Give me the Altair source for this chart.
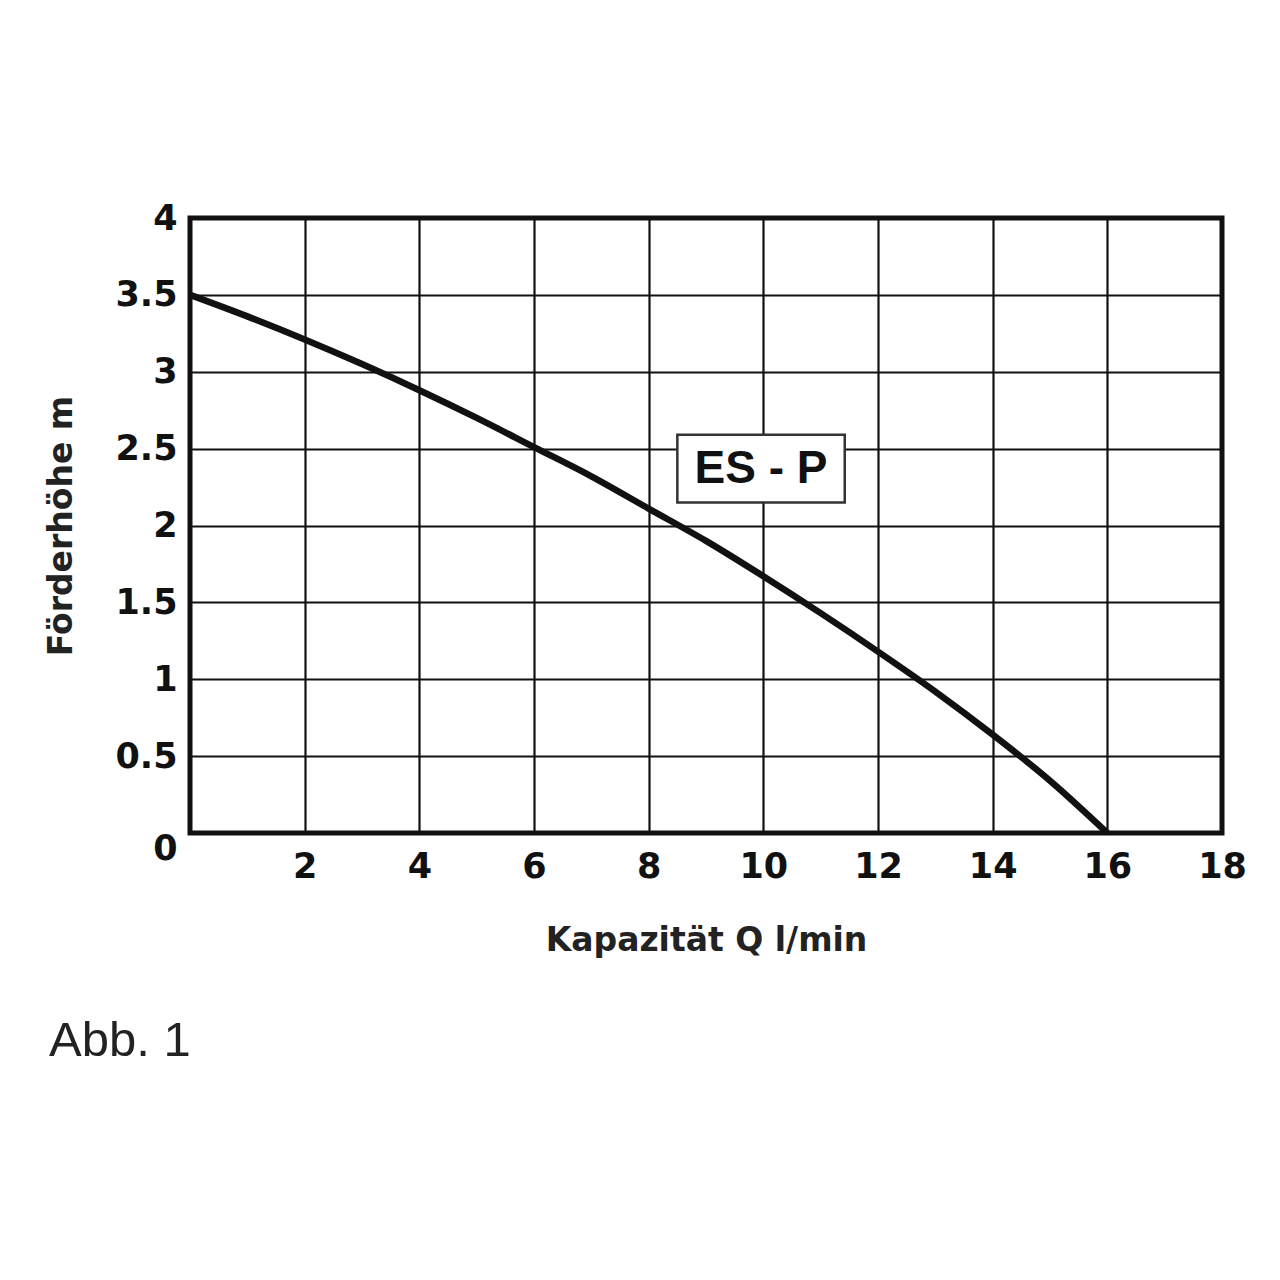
import pandas as pd
import altair as alt

# Kennlinie ES - P
kapazitaet = [0, 1, 2, 3, 4, 5, 6, 7, 8, 9, 10, 11, 12, 13, 14, 15, 16]
foerderhoehe = [3.50, 3.36, 3.21, 3.05, 2.88, 2.70, 2.51, 2.32, 2.11, 1.90,
                1.67, 1.43, 1.18, 0.92, 0.64, 0.34, 0.00]

x_ticks = [0, 2, 4, 6, 8, 10, 12, 14, 16, 18]
y_ticks = [0, 0.5, 1, 1.5, 2, 2.5, 3, 3.5, 4]

label_text = ["ES - P"]
label_x = [8.5]
label_x2 = [11.42]
label_y = [2.59]
label_y2 = [2.15]

df = pd.DataFrame({"q": kapazitaet, "h": foerderhoehe})
lab = pd.DataFrame({"text": label_text, "x": label_x, "x2": label_x2,
                    "y": label_y, "y2": label_y2})
lab["xm"] = (lab["x"] + lab["x2"]) / 2
lab["ym"] = (lab["y"] + lab["y2"]) / 2

font = "DejaVu Sans"

x_scale = alt.Scale(domain=[0, 18], nice=False, zero=False)
y_scale = alt.Scale(domain=[0, 4], nice=False, zero=False)

x_axis = alt.Axis(
    values=x_ticks, title="Kapazität Q l/min", grid=True, gridColor="#111",
    gridWidth=2.2, ticks=False, domain=False, labelFont=font,
    labelFontWeight="bold", labelFontSize=35, labelColor="#111",
    labelPadding=16, labelFlush=False, labelOverlap=False,
    labelExpr="datum.value == 0 ? '' : datum.value",
    titleFont=font, titleFontWeight="bold", titleFontSize=33,
    titleColor="#222", titlePadding=40,
)
y_axis = alt.Axis(
    values=y_ticks, title="Förderhöhe m", grid=True, gridColor="#111",
    gridWidth=2.2, ticks=False, domain=False, labelFont=font,
    labelFontWeight="bold", labelFontSize=35, labelColor="#111",
    labelPadding=13, labelFlush=False, labelOverlap=False,
    labelExpr="datum.value + ''",
    labelOffset={"condition": {"test": "datum.value === 0", "value": 15}, "value": 0},
    titleFont=font, titleFontWeight="bold", titleFontSize=33,
    titleColor="#222", titlePadding=36,
)

curve = alt.Chart(df).mark_line(
    color="#111", strokeWidth=6.5, interpolate="monotone"
).encode(
    x=alt.X("q:Q", scale=x_scale, axis=x_axis),
    y=alt.Y("h:Q", scale=y_scale, axis=y_axis),
)

box = alt.Chart(lab).mark_rect(
    fill="white", stroke="#333", strokeWidth=2.5
).encode(
    x=alt.X("x:Q", scale=x_scale),
    x2="x2:Q",
    y=alt.Y("y:Q", scale=y_scale),
    y2="y2:Q",
)

text = alt.Chart(lab).mark_text(
    font="Liberation Sans", fontWeight="bold", fontSize=46, color="#111"
).encode(
    x=alt.X("xm:Q", scale=x_scale),
    y=alt.Y("ym:Q", scale=y_scale),
    text="text:N",
)

chart = alt.layer(curve, box, text).properties(
    width=1032,
    height=615,
    background="white",
    autosize=alt.AutoSizeParams(type="none"),
    padding={"left": 182, "top": 210, "right": 50, "bottom": 250},
    title=alt.TitleParams(
        "Abb. 1", orient="bottom", anchor="start", frame="bounds",
        font="Liberation Sans", fontSize=49, fontWeight="normal",
        color="#222", offset=60, dx=3,
    ),
).configure_view(
    stroke="#111", strokeWidth=5
)

chart.save("out.html", embed_options={"renderer": "svg", "actions": False})
